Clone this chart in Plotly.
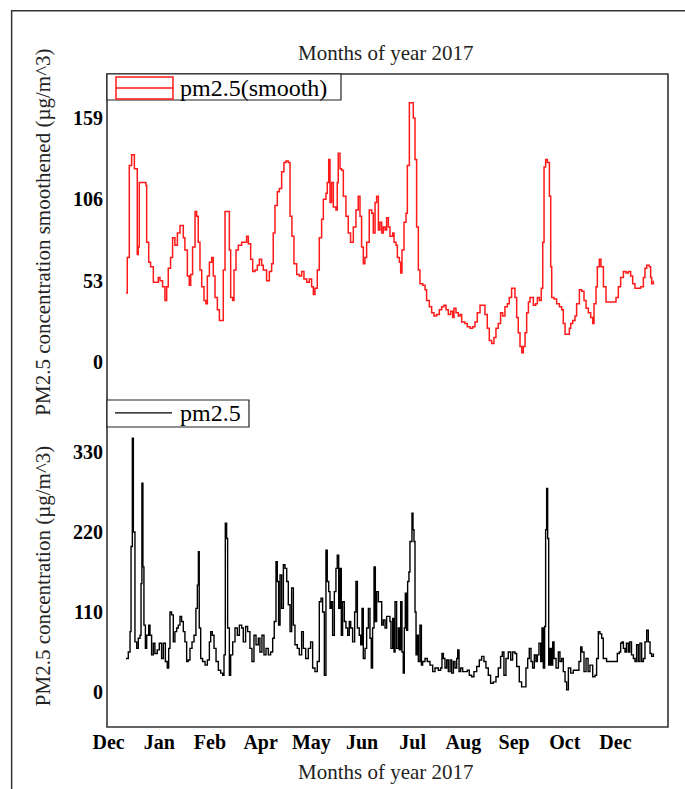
import plotly.graph_objects as go

# ---------------- data ----------------
smooth_day = [0.0, 0.9, 2.3, 3.9, 5.8, 7.8, 8.5, 9.2, 13.8, 14.3, 15.7, 17.0, 18.9, 22.3, 23.5, 25.3, 26.9, 28.1, 29.2, 30.8,
              32.2, 33.8, 35.5, 37.3, 38.4, 39.6, 40.7, 42.4, 43.7, 44.7, 46.0, 47.7, 48.8, 49.9, 51.1, 52.3, 53.9, 55.2, 56.2, 57.6,
              59.2, 60.3, 61.5, 63.1, 64.5, 66.1, 67.2, 68.4, 70.7, 71.4, 72.3, 73.7, 74.6, 76.0, 77.6, 79.9, 82.2, 83.3, 84.5, 86.1,
              87.5, 89.1, 90.7, 92.1, 93.7, 94.8, 97.1, 99.0, 100.6, 101.7, 102.9, 104.5, 105.9, 107.5, 109.1, 110.5, 112.1, 113.3, 114.6, 116.0,
              117.9, 119.7, 121.3, 122.9, 124.8, 126.6, 128.2, 129.4, 130.5, 132.1, 133.5, 135.1, 136.3, 138.1, 139.0, 140.0, 140.9, 142.0, 143.2, 145.0,
              145.9, 146.6, 147.8, 148.9, 150.1, 151.9, 153.5, 155.1, 157.0, 158.8, 160.4, 161.6, 162.7, 163.9, 165.0, 166.2, 168.0, 169.7, 170.8, 172.0,
              173.1, 174.3,
              175.4, 176.6, 177.7, 178.9, 180.0, 181.2, 182.3, 184.2, 185.1, 186.5,
              187.4, 188.8, 189.7, 190.6, 192.0, 193.4, 194.3, 195.7, 197.3, 198.4,
              199.6, 200.7, 201.9, 203.0, 204.9, 206.5, 207.6, 209.5, 211.1, 212.7,
              214.5, 216.4, 218.0, 219.6, 221.0, 222.6, 224.2, 225.6, 226.5, 227.9,
              229.5, 230.7, 231.8, 234.1, 235.7, 237.6, 239.4, 241.0, 242.6, 244.5,
              246.3, 247.9, 249.5, 250.9, 252.5, 254.1, 255.5, 257.1, 258.7, 260.1,
              261.7, 263.4, 264.7, 266.3, 267.5, 268.6, 269.8, 270.9, 272.1, 273.3,
              274.4, 275.6, 276.7, 277.9, 279.0, 280.2, 281.3, 282.9, 284.1, 285.5,
              286.8, 287.8, 288.7, 289.8, 291.0, 292.4, 293.3, 294.0, 295.6, 297.4,
              299.3, 300.9, 302.0, 303.2, 304.8, 306.2, 307.1, 308.5, 310.1, 311.2,
              313.1, 314.7, 316.3, 317.7, 319.3, 320.9, 322.3, 323.2, 324.6, 325.5,
              326.9, 328.0, 329.7, 331.5, 334.3, 336.6, 338.4, 340.0, 341.6, 343.5,
              345.3, 346.9, 348.5, 349.9, 351.5, 353.8, 355.4, 357.3, 358.4, 359.6,
              361.4, 362.3, 363.0, 364.2]
smooth_val = [45, 68, 128, 135, 126, 70, 75, 117, 115, 78, 65, 62, 52, 55, 53, 49, 40, 49, 61, 68,
              81, 76, 84, 89, 89, 81, 73, 56, 50, 57, 75, 98, 95, 78, 60, 49, 40, 38, 56, 65,
              68, 56, 42, 34, 27, 27, 60, 98, 98, 73, 42, 40, 60, 73, 76, 78, 78, 82, 77, 67,
              59, 60, 63, 67, 63, 60, 53, 59, 64, 84, 102, 111, 113, 124, 130, 131, 130, 95, 82, 64,
              57, 56, 59, 54, 52, 54, 49, 44, 48, 60, 81, 93, 106, 110, 117, 132, 104, 117, 101, 99,
              117, 136, 126, 125, 108, 95, 84, 78, 88, 99, 108, 95, 75, 64, 68, 78, 99, 97, 84, 104,
              108, 86,
              91, 84, 88, 86, 94, 88, 82, 84, 78, 76,
              68, 65, 58, 73, 91, 97, 128, 169, 169, 159,
              132, 88, 60, 51, 50, 47, 40, 36, 32, 30,
              31, 34, 36, 37, 34, 31, 33, 29, 35, 32,
              30, 31, 26, 25, 23, 22, 23, 26, 32, 37,
              37, 31, 22, 14, 12, 16, 22, 25, 32, 30,
              36, 38, 42, 48, 48, 42, 29, 19, 10, 6,
              10, 19, 32, 39, 42, 42, 37, 38, 42, 40,
              48, 78, 127, 132, 130, 108, 62, 42, 41, 38,
              36, 34, 25, 18, 18, 22, 25, 27, 30, 38,
              47, 46, 40, 35, 32, 29, 25, 38, 49, 62,
              67, 62, 49, 39, 39, 39, 42, 49, 55, 59,
              58, 59, 56, 51, 48, 48, 49, 55, 61, 63,
              62, 55, 51, 53]

raw_day = [0.0, 1.6, 2.8, 3.5, 4.4, 5.1, 5.8, 6.2, 7.4, 8.5,
           9.7, 10.4, 11.0, 11.7, 12.4, 13.4, 14.3, 15.7, 16.6, 17.7,
           18.9, 20.0, 21.6, 23.0, 24.6, 25.8, 27.2, 28.5, 29.5, 30.4,
           31.5, 32.7, 33.8, 35.0, 36.1, 37.3, 38.4, 39.6, 40.7, 41.9,
           43.0, 44.2, 45.6, 47.0, 48.3, 49.3, 50.0, 50.6, 51.6, 52.9,
           54.6, 56.2, 57.6, 58.5, 59.6, 60.8, 62.2, 63.8, 65.4, 66.8,
           67.7, 68.6, 69.5, 70.2, 71.4, 72.3, 73.7, 75.3, 76.9, 78.3,
           79.9, 81.0, 82.6, 84.0, 85.6, 87.0, 88.4, 89.8, 91.4, 92.5,
           93.9, 95.3, 96.7, 98.3, 99.9, 101.3, 102.4, 103.6, 104.5, 105.4,
           106.4, 107.5, 108.7, 109.8, 111.0, 112.1, 113.3, 114.4, 115.6, 116.7,
           118.3, 119.7, 121.3, 122.5, 124.1, 125.9, 127.5, 128.9, 130.5, 132.1,
           133.5, 134.7, 135.8, 137.0, 138.1, 139.0, 140.0, 140.9, 141.8, 142.7,
           143.9, 145.0, 145.9, 146.9, 147.8, 148.7, 149.6, 150.8, 151.9, 153.1,
           154.2, 155.2, 156.5, 157.9, 158.8, 159.8, 161.1, 162.1, 163.0, 163.9,
           165.1, 166.2, 167.4, 168.5, 169.4, 170.3, 171.3, 172.2, 173.1, 174.3,
           176.6, 177.7, 178.9, 180.0, 181.2, 182.3, 183.0, 184.2, 185.1, 185.8,
           186.9, 188.1, 188.8, 189.7, 190.6, 191.5, 192.2, 192.9, 193.8, 194.5,
           195.4, 196.1, 196.8, 197.5, 198.2, 198.9, 199.6, 200.3, 201.2, 201.9,
           203.0, 204.0, 204.9, 206.5, 208.1, 209.9, 211.8, 213.4, 215.7, 217.3,
           218.2, 219.2, 220.3, 221.5, 222.6, 223.8, 224.9, 226.1, 227.2, 228.4,
           229.1, 230.0, 231.1, 232.5, 234.1, 235.7, 237.1, 238.7, 240.3, 242.2,
           244.0, 245.6, 247.2, 248.6, 250.2, 251.8, 253.7, 255.5, 257.1, 258.7,
           259.9, 261.0, 262.4, 264.0, 265.7, 267.0, 268.6, 269.8, 271.6, 273.2,
           274.9, 276.2, 277.4, 278.5, 279.7, 280.8, 282.0, 283.1, 284.1, 285.2,
           286.4, 287.3, 288.2, 289.1, 289.8, 290.5, 291.2, 291.9, 292.8, 293.7,
           294.7, 295.6, 297.0, 298.6, 299.7, 300.9, 302.0, 303.2, 304.3, 305.5,
           307.1, 308.9, 311.2, 312.8, 314.0, 314.9, 316.3, 317.7, 319.1, 320.4,
           322.3, 323.9, 325.0, 326.2, 327.3, 328.5, 329.6, 331.9, 335.4, 338.4,
           339.3, 340.7, 341.6, 342.5, 343.5, 344.6, 345.6, 346.9, 347.9, 349.1,
           350.4, 351.5, 352.6, 353.8, 354.9, 356.1, 357.3, 358.4, 359.6, 360.7,
           361.9, 363.0, 364.2]
raw_val = [46, 55, 83, 200, 349, 220, 220, 69, 60, 74,
           78, 149, 287, 172, 92, 60, 78, 92, 78, 51,
           67, 53, 58, 67, 46, 67, 42, 33, 60, 110,
           106, 69, 83, 88, 92, 104, 97, 83, 69, 42,
           44, 60, 69, 78, 115, 147, 193, 88, 46, 42,
           37, 44, 69, 83, 78, 60, 42, 30, 26, 23,
           51, 232, 211, 88, 23, 51, 69, 88, 78, 92,
           88, 69, 90, 83, 60, 42, 78, 65, 74, 55,
           78, 51, 60, 51, 55, 74, 97, 179, 152, 92,
           161, 115, 175, 170, 152, 120, 83, 143, 92, 65,
           60, 51, 83, 60, 46, 60, 69, 33, 28, 42,
           124, 129, 110, 23, 195, 152, 138, 115, 124, 78,
           138, 170, 188, 115, 170, 78, 124, 97, 88, 78,
           97, 88, 69, 110, 152, 88, 78, 65, 115, 46,
           60, 88, 115, 74, 33, 88, 172, 97, 138, 124,
           92, 99, 88, 104, 104, 97, 60, 101, 55, 124,
           60, 88, 58, 124, 55, 26, 88, 136, 85, 152,
           165, 207, 207, 246, 223, 207, 110, 51, 78, 42,
           92, 37, 42, 46, 42, 37, 28, 33, 30, 33,
           53, 46, 33, 44, 28, 44, 26, 42, 33, 46,
           58, 28, 33, 28, 28, 30, 23, 21, 28, 35,
           44, 49, 42, 33, 23, 12, 14, 21, 33, 49,
           55, 23, 46, 55, 44, 55, 53, 35, 14, 7,
           7, 33, 46, 60, 42, 33, 51, 42, 51, 67,
           42, 88, 33, 90, 223, 280, 211, 37, 60, 37,
           69, 46, 33, 55, 42, 46, 28, 14, 3, 33,
           26, 30, 30, 42, 62, 55, 28, 46, 28, 37,
           21, 23, 46, 83, 80, 74, 46, 42, 42, 42,
           53, 55, 67, 69, 60, 55, 67, 55, 69, 51,
           46, 42, 65, 42, 67, 42, 46, 69, 85, 69,
           53, 49, 53]

month_tick_days = [-12, 23, 58, 93, 128, 163, 198, 233, 268, 303, 338]
month_labels = ["Dec", "Jan", "Feb", "Apr", "May", "Jun", "Jul", "Aug", "Sep", "Oct", "Dec"]
smooth_ticks = [0, 53, 106, 159]
raw_ticks = [0, 110, 220, 330]
smooth_name = "pm2.5(smooth)"
raw_name = "pm2.5"

# ---------------- figure ----------------
SERIF = "Liberation Serif"
tickfont = dict(family=SERIF, size=20, color="black", weight="bold")
split = 0.5008
RED = "#ff1a1a"

fig = go.Figure()
fig.add_trace(go.Scatter(x=smooth_day, y=smooth_val, mode="lines", name=smooth_name,
                         line=dict(color=RED, width=1.5, shape="hv"),
                         xaxis="x", yaxis="y", showlegend=False))
fig.add_trace(go.Scatter(x=raw_day, y=raw_val, mode="lines", name=raw_name,
                         line=dict(color="black", width=1.4, shape="hv"),
                         xaxis="x2", yaxis="y2", showlegend=False))

xrange = [-13.1, 374.3]
common_axis = dict(showgrid=False, zeroline=False, showline=False, ticks="")

fig.update_layout(
    width=685, height=789,
    margin=dict(l=107, r=17, t=74, b=62),
    paper_bgcolor="white", plot_bgcolor="white",
    font=dict(family=SERIF, color="#111"),
    xaxis=dict(domain=[0, 1], anchor="y", range=xrange, showticklabels=False, **common_axis),
    yaxis=dict(domain=[split, 1], anchor="x", range=[-24.8, 187.7], tickvals=smooth_ticks,
               tickfont=tickfont, ticklabelstandoff=3, **common_axis),
    xaxis2=dict(domain=[0, 1], anchor="y2", range=xrange, tickvals=month_tick_days,
                ticktext=month_labels, tickfont=tickfont, ticklabelstandoff=1, **common_axis),
    yaxis2=dict(domain=[0, split], anchor="x2", range=[-48.1, 401.5], tickvals=raw_ticks,
                tickfont=tickfont, ticklabelstandoff=3, **common_axis),
    showlegend=False,
)

def paper_rect(x0, y0, x1, y1, color, width, fill=None):
    fig.add_shape(type="rect", xref="paper", yref="paper", x0=x0, y0=y0, x1=x1, y1=y1,
                  line=dict(color=color, width=width), fillcolor=fill, layer="above")

def paper_line(x0, y0, x1, y1, color, width):
    fig.add_shape(type="line", xref="paper", yref="paper", x0=x0, y0=y0, x1=x1, y1=y1,
                  line=dict(color=color, width=width), layer="above")

# frame around plotting region and outer border of the figure
paper_rect(0, 0, 1, 1, "#333", 1.6)
paper_rect(-0.170, -0.11, 1.04, 1.097, "#333", 1.5)

# legend boxes (drawn in the style of the reference)
legend_font = dict(family=SERIF, size=24, color="black")
paper_rect(0, 0.9602, 0.4171, 1, "#222", 1.2, fill="white")
paper_rect(0.016, 0.9617, 0.1176, 0.9954, RED, 1.5)
paper_line(0.016, 0.9786, 0.1176, 0.9786, RED, 1.5)
fig.add_annotation(text=smooth_name, xref="paper", yref="paper", x=0.1266, y=0.9786,
                   xanchor="left", yanchor="middle", showarrow=False, font=legend_font)

paper_rect(0, 0.4594, 0.2531, split, "#222", 1.2, fill="white")
paper_line(0.0143, 0.4809, 0.1159, 0.4809, "black", 1.3)
fig.add_annotation(text=raw_name, xref="paper", yref="paper", x=0.1266, y=0.4809,
                   xanchor="left", yanchor="middle", showarrow=False, font=legend_font)

# titles
title_font = dict(family=SERIF, size=21, color="#222")
fig.add_annotation(text="Months of year 2017", xref="paper", yref="paper", x=0.497, y=1.032,
                   showarrow=False, font=title_font, xanchor="center", yanchor="middle")
fig.add_annotation(text="Months of year 2017", xref="paper", yref="paper", x=0.497, y=-0.069,
                   showarrow=False, font=title_font, xanchor="center", yanchor="middle")
fig.add_annotation(text="PM2.5 concentration smoothened (\u00b5g/m^3)", xref="paper", yref="paper",
                   x=-0.114, y=0.757, textangle=-90, showarrow=False, font=title_font,
                   xanchor="center", yanchor="middle")
fig.add_annotation(text="PM2.5 concentration (\u00b5g/m^3)", xref="paper", yref="paper",
                   x=-0.114, y=0.231, textangle=-90, showarrow=False, font=title_font,
                   xanchor="center", yanchor="middle")

fig.write_html("out.html", config={"displayModeBar": False},
               post_script="document.body.style.margin='0px';")
